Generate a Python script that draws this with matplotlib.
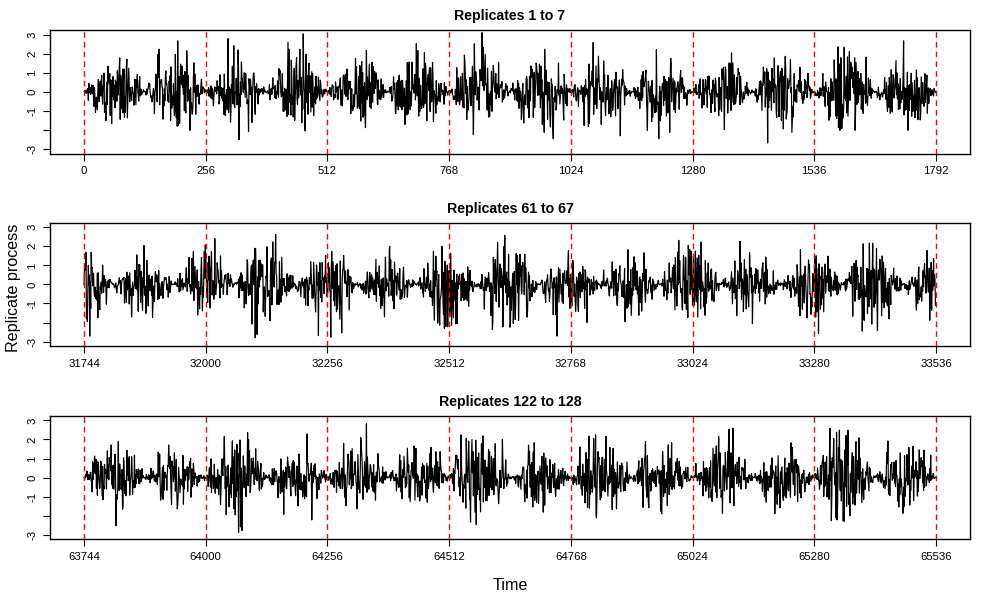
import numpy as np
import matplotlib
matplotlib.use("Agg")
import matplotlib.pyplot as plt

plt.rcParams['font.family'] = ['Liberation Sans', 'DejaVu Sans']

# Replicate groups shown in the three panels
panel_titles = ["Replicates 1 to 7", "Replicates 61 to 67", "Replicates 122 to 128"]
panel_starts = [0, 31744, 63744]
block_len = 256
n_blocks = 7

# time of the first lull in each panel (bursts last ~128 time units)
hump_offsets = [0, 60, 0]

# highest / lowest excursion of every burst
hump_max_1 = [1.78, 2.67, 2.79, 3.04, 2.18, 2.53, 3.10, 2.23, 2.58, 2.21, 2.04, 1.86, 2.36, 2.67]
hump_min_1 = [-1.67, -2.02, -2.51, -2.05, -1.88, -1.71, -2.25, -2.46, -2.31, -2.46, -1.98, -2.68, -2.02, -2.02]
hump_max_2 = [1.69, 2.04, 2.40, 2.61, 1.73, 1.99, 1.99, 2.57, 1.78, 1.82, 2.31, 2.26, 1.82, 2.17, 1.78]
hump_min_2 = [-2.71, -1.74, -1.60, -2.80, -2.77, -1.70, -2.30, -2.36, -2.71, -1.95, -1.74, -2.06, -2.57, -2.45, -1.88]
hump_max_3 = [1.89, 1.71, 2.36, 2.29, 2.82, 1.66, 2.24, 1.83, 2.24, 1.89, 2.59, 1.83, 2.59, 1.92]
hump_min_3 = [-2.52, -1.64, -2.87, -2.22, -1.64, -1.29, -2.47, -1.81, -2.11, -1.90, -1.87, -1.90, -2.29, -1.87]

hump_max = [hump_max_1, hump_max_2, hump_max_3]
hump_min = [hump_min_1, hump_min_2, hump_min_3]


def build_series(offset, hmax, hmin, seed):
    # sample-to-sample texture cannot be read from the image; the burst
    # envelope and extremes come from the lists above
    t = np.arange(block_len * n_blocks)
    rng = np.random.default_rng(seed)
    z = rng.standard_normal(t.size)
    s = (t - offset) / 128.0
    idx = np.floor(s).astype(int)
    idx = idx - idx.min()
    x = z * np.abs(np.sin(np.pi * s)) ** 0.9
    for k in range(idx.max() + 1):
        m = idx == k
        seg = x[m]
        pos = seg > 0
        seg[pos] *= hmax[k] / seg[pos].max()
        seg[~pos] *= hmin[k] / seg[~pos].min()
        x[m] = seg
    return t, x


fig = plt.figure(figsize=(10, 6), dpi=100)
bottoms = [0.744, 0.423, 0.101]
span = block_len * n_blocks

for i in range(3):
    ax = fig.add_axes([0.05, bottoms[i], 0.92, 0.206])
    start = panel_starts[i]
    t, x = build_series(hump_offsets[i], hump_max[i], hump_min[i], seed=11 + i)
    ax.plot(start + t, x, color='black', lw=0.85)
    for k in range(n_blocks + 1):
        ax.axvline(start + k * block_len, color='red', ls=(0, (4, 3)), lw=1.0)
    ax.set_xlim(start - 0.04 * span, start + 1.04 * span)
    ax.set_ylim(-3.24, 3.24)
    ax.set_xticks(start + np.arange(n_blocks + 1) * block_len)
    ax.set_yticks([-3, -2, -1, 0, 1, 2, 3])
    ax.set_yticklabels(['-3', '', '-1', '0', '1', '2', '3'], rotation=90, va='center')
    ax.tick_params(direction='out', length=5, width=0.8, labelsize=8.2, pad=4)
    for sp in ax.spines.values():
        sp.set_linewidth(1.0)
    ax.set_title(panel_titles[i], fontsize=10.2, fontweight='bold', pad=7)

fig.text(0.014, 0.52, "Replicate process", rotation=90, ha='center', va='center', fontsize=11.6)
fig.text(0.51, 0.025, "Time", ha='center', va='center', fontsize=11.6)

plt.savefig("out.png", dpi=100)
